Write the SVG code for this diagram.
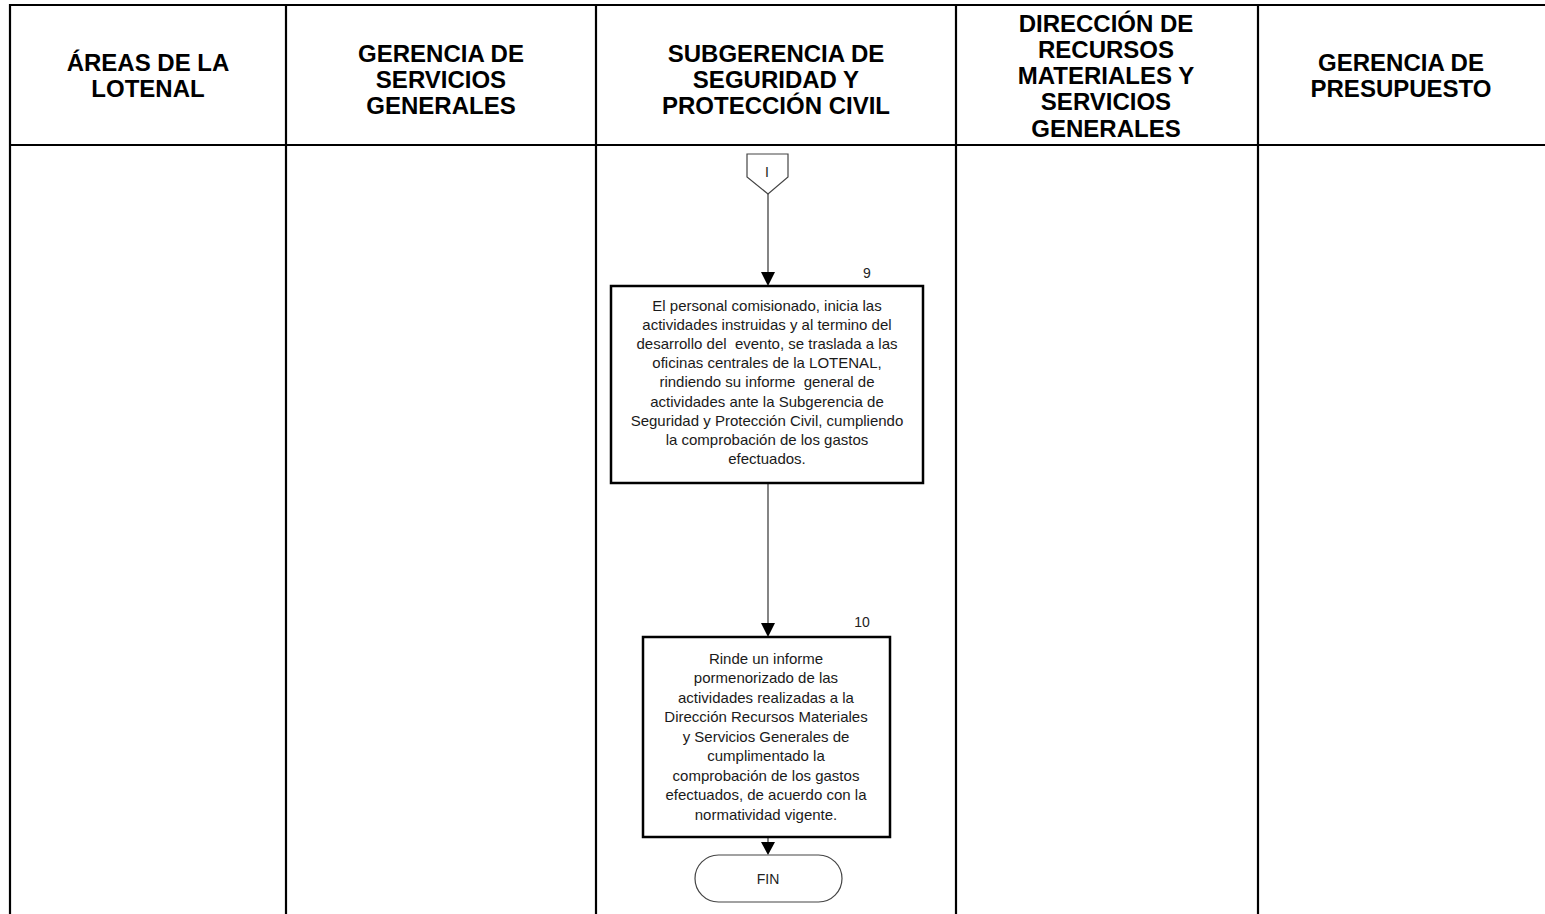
<svg xmlns="http://www.w3.org/2000/svg" width="1545" height="914" viewBox="0 0 1545 914">
<style>
.grid{stroke:#000;stroke-width:2.2;fill:none}
.hdr{font-family:"Liberation Sans",Arial,sans-serif;font-weight:bold;font-size:24px;fill:#000;text-anchor:middle}
.box{fill:#fff;stroke:#000;stroke-width:2.5}
.txt{font-family:"Liberation Sans",Arial,sans-serif;font-size:15px;fill:#1a1a1a;text-anchor:middle}
.num{font-family:"Liberation Sans",Arial,sans-serif;font-size:14px;fill:#222;text-anchor:middle}
.thin{fill:#fff;stroke:#444;stroke-width:1.2}
.conn{stroke:#333;stroke-width:1.2;fill:none}
.ah{fill:#000}
</style>
<rect x="0" y="0" width="1545" height="914" fill="#fff"/>
<g id="lanes">
<line class="grid" x1="10" y1="5" x2="1545" y2="5"/>
<line class="grid" x1="10" y1="145" x2="1545" y2="145"/>
<line class="grid" x1="10" y1="4" x2="10" y2="914"/>
<line class="grid" x1="286" y1="4" x2="286" y2="914"/>
<line class="grid" x1="596" y1="4" x2="596" y2="914"/>
<line class="grid" x1="956" y1="4" x2="956" y2="914"/>
<line class="grid" x1="1258" y1="4" x2="1258" y2="914"/>
</g>
<g id="headers">
<text class="hdr" x="148" y="71">ÁREAS DE LA</text>
<text class="hdr" x="148" y="97">LOTENAL</text>
<text class="hdr" x="441" y="62">GERENCIA DE</text>
<text class="hdr" x="441" y="88">SERVICIOS</text>
<text class="hdr" x="441" y="114">GENERALES</text>
<text class="hdr" x="776" y="62">SUBGERENCIA DE</text>
<text class="hdr" x="776" y="88">SEGURIDAD Y</text>
<text class="hdr" x="776" y="114">PROTECCIÓN CIVIL</text>
<text class="hdr" x="1106" y="32">DIRECCIÓN DE</text>
<text class="hdr" x="1106" y="58">RECURSOS</text>
<text class="hdr" x="1106" y="84">MATERIALES Y</text>
<text class="hdr" x="1106" y="110">SERVICIOS</text>
<text class="hdr" x="1106" y="137">GENERALES</text>
<text class="hdr" x="1401" y="71">GERENCIA DE</text>
<text class="hdr" x="1401" y="97">PRESUPUESTO</text>
</g>
<g id="connectors">
<line class="conn" x1="768" y1="194" x2="768" y2="273"/>
<polygon class="ah" points="761,272 775,272 768,286"/>
<line class="conn" x1="768" y1="484" x2="768" y2="624"/>
<polygon class="ah" points="761,623 775,623 768,637"/>
<line class="conn" x1="768" y1="838" x2="768" y2="843"/>
<polygon class="ah" points="761,842 775,842 768,855"/>
</g>
<g id="connector-I">
<polygon class="thin" points="747,154 788,154 788,177 768,194 747,177"/>
<text class="num" x="767" y="177">I</text>
</g>
<g id="step-9">
<text class="num" x="867" y="278">9</text>
<rect class="box" x="611" y="286" width="312" height="197"/>
<text class="txt" x="767" y="311">El personal comisionado, inicia las</text>
<text class="txt" x="767" y="330">actividades instruidas y al termino del</text>
<text class="txt" x="767" y="349" xml:space="preserve">desarrollo del  evento, se traslada a las</text>
<text class="txt" x="767" y="368">oficinas centrales de la LOTENAL,</text>
<text class="txt" x="767" y="387" xml:space="preserve">rindiendo su informe  general de</text>
<text class="txt" x="767" y="407">actividades ante la Subgerencia de</text>
<text class="txt" x="767" y="426">Seguridad y Protección Civil, cumpliendo</text>
<text class="txt" x="767" y="445">la comprobación de los gastos</text>
<text class="txt" x="767" y="464">efectuados.</text>
</g>
<g id="step-10">
<text class="num" x="862" y="627">10</text>
<rect class="box" x="643" y="637" width="247" height="200"/>
<text class="txt" x="766" y="664">Rinde un informe</text>
<text class="txt" x="766" y="683">pormenorizado de las</text>
<text class="txt" x="766" y="703">actividades realizadas a la</text>
<text class="txt" x="766" y="722">Dirección Recursos Materiales</text>
<text class="txt" x="766" y="742">y Servicios Generales de</text>
<text class="txt" x="766" y="761">cumplimentado la</text>
<text class="txt" x="766" y="781">comprobación de los gastos</text>
<text class="txt" x="766" y="800">efectuados, de acuerdo con la</text>
<text class="txt" x="766" y="820">normatividad vigente.</text>
</g>
<g id="fin">
<rect class="thin" x="695" y="855" width="147" height="47" rx="23.5" ry="23.5"/>
<text class="num" x="768" y="884">FIN</text>
</g>
</svg>
